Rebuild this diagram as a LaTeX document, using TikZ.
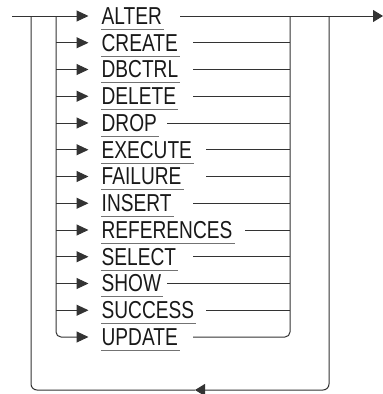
\documentclass[tikz,border=0pt]{standalone}
\usepackage{fontspec}
\setmainfont[FakeStretch=0.78]{Liberation Sans}
\usetikzlibrary{arrows.meta}

\begin{document}
\begin{tikzpicture}[x=1pt, y=-1pt,
    rail/.style={line width=1pt, draw=black!80},
    tip/.style={-{Triangle[length=12pt, width=11pt]}, shorten >=13pt},
    bigtip/.style={-{Triangle[length=10pt, width=12pt]}},
    kw/.style={anchor=west, inner sep=0pt, text=black!90, font=\fontsize{24.5pt}{24.5pt}\selectfont}]
  \useasboundingbox (0,0) rectangle (383,394);
  \coordinate (start) at (12,16);
  \coordinate (end) at (383,16);
  \coordinate (outl) at (31,16);
  \coordinate (outr) at (329,16);
  \coordinate (loop-l) at (31,390);
  \coordinate (loop-r) at (329,390);
  \coordinate (loop-mid) at (195,390);
  % keywords, each with the point where its line to the right rail begins
  \foreach \word/\xout [count=\i] in {ALTER/180, CREATE/193, DBCTRL/193, DELETE/193,
      DROP/167, EXECUTE/206, FAILURE/206, INSERT/193, REFERENCES/245, SELECT/193,
      SHOW/167, SUCCESS/206, UPDATE/193} {
    \pgfmathsetmacro\yrow{16+26.75*(\i-1)}
    \node[kw] (kw-\i) at (101.5,\yrow) {\word};
    \coordinate (out-\i) at (\xout,\yrow);
    \coordinate (inl-\i) at (56,\yrow);
    \coordinate (inr-\i) at (290,\yrow);
    \draw[rail, draw=black!55] ([yshift=-5pt, xshift=-0.5pt]kw-\i.base west) -- ([yshift=-5pt, xshift=2pt]kw-\i.base east);
  }
  % main line
  \draw[rail, tip] (start) -- (kw-1.west);
  \draw[rail, bigtip] (out-1) -- (end);
  % inner choice
  \draw[rail, rounded corners=5pt, tip] (inl-1) -- (inl-13) -- (kw-13.west);
  \draw[rail, rounded corners=5pt] (out-13) -- (inr-13) -- (inr-1);
  \foreach \i in {2,...,12} {
    \draw[rail, tip] (inl-\i) -- (kw-\i.west);
    \draw[rail] (out-\i) -- (inr-\i);
  }
  % repeat loop
  \draw[rail, rounded corners=6pt, bigtip] (outr) -- (loop-r) -- (loop-mid);
  \draw[rail, rounded corners=6pt] (loop-mid) -- (loop-l) -- (outl);
\end{tikzpicture}
\end{document}
